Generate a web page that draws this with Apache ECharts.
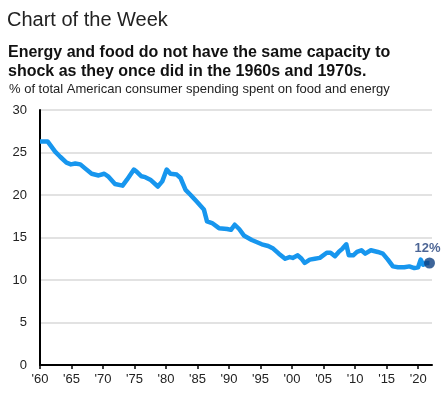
<!DOCTYPE html>
<html>
<head>
<meta charset="utf-8">
<script src="https://cdn.jsdelivr.net/npm/echarts@6/dist/echarts.min.js"></script>
<style>
html,body{margin:0;padding:0;background:#fff;}
#chart{width:446px;height:394px;}
</style>
</head>
<body>
<div id="chart"></div>
<script>
const years = [1960.0,1961.2,1962.4,1963.2,1964.2,1964.9,1965.6,1966.4,1967.2,1968.2,1969.3,1970.2,1970.8,1971.9,1973.1,1973.8,1974.9,1975.4,1976.1,1976.7,1977.5,1978.7,1979.4,1980.1,1980.7,1981.7,1982.3,1983.1,1983.9,1984.9,1986.0,1986.5,1987.3,1988.4,1989.7,1990.3,1990.9,1991.6,1992.4,1993.6,1995.2,1996.2,1997.0,1997.9,1998.9,1999.6,2000.1,2000.9,2001.5,2002.0,2002.8,2003.6,2004.4,2005.5,2006.1,2006.8,2007.4,2008.0,2008.6,2009.0,2009.7,2010.3,2011.0,2011.6,2012.5,2013.6,2014.4,2015.2,2016.0,2016.8,2017.8,2018.6,2019.4,2020.0,2020.4,2020.8,2021.3,2021.8];
const shares = [26.3,26.3,25.1,24.5,23.8,23.6,23.7,23.6,23.1,22.5,22.3,22.5,22.2,21.3,21.1,21.8,23.0,22.7,22.2,22.1,21.8,21.0,21.6,23.0,22.5,22.4,22.0,20.6,20.0,19.2,18.3,16.9,16.7,16.1,16.0,15.9,16.5,16.0,15.2,14.7,14.2,14.0,13.7,13.1,12.5,12.7,12.6,12.9,12.5,12.0,12.4,12.5,12.6,13.2,13.2,12.8,13.3,13.7,14.2,12.9,12.9,13.3,13.5,13.1,13.5,13.3,13.1,12.4,11.6,11.5,11.5,11.6,11.4,11.5,12.4,11.8,12.0,12.0];
const xTicks = [1960,1965,1970,1975,1980,1985,1990,1995,2000,2005,2010,2015,2020];
const yTicks = [0,5,10,15,20,25,30];
const endLabel = '12%';

const lineData = years.map((y, i) => [y, shares[i]]);
const lastPoint = [[years[years.length - 1], shares[shares.length - 1]]];

const chart = echarts.init(document.getElementById('chart'), null, {renderer: 'canvas'});
const FONT = '"Liberation Sans", Arial, sans-serif';
chart.setOption({
  animation: false,
  backgroundColor: '#ffffff',
  title: [
    {text: 'Chart of the Week', left: 7, top: 10, padding: 0,
     textStyle: {fontFamily: FONT, fontSize: 20, fontWeight: 'normal', color: '#222'}},
    {text: 'Energy and food do not have the same capacity to\nshock as they once did in the 1960s and 1970s.', left: 8, top: 43, padding: 0,
     textStyle: {fontFamily: FONT, fontSize: 16, fontWeight: 'bold', color: '#111', lineHeight: 19}},
    {text: '% of total American consumer spending spent on food and energy', left: 9, top: 83, padding: 0,
     textStyle: {fontFamily: FONT, fontSize: 13, fontWeight: 'normal', color: '#222'}}
  ],
  grid: {left: 40, right: 14, top: 110, bottom: 29, containLabel: false},
  xAxis: {
    type: 'value', min: 1960, max: 2022.2, interval: 5,
    axisLine: {show: true, lineStyle: {color: '#000', width: 2}},
    axisTick: {show: true, length: 4, lineStyle: {color: '#000', width: 1.5}, customValues: xTicks},
    axisLabel: {
      customValues: xTicks, margin: 8,
      fontFamily: FONT, fontSize: 13, color: '#222',
      formatter: v => "'" + String(Math.round(v)).slice(2)
    },
    splitLine: {show: false}
  },
  yAxis: {
    type: 'value', min: 0, max: 30, interval: 5,
    axisLine: {show: true, lineStyle: {color: '#000', width: 2}},
    axisTick: {show: false},
    axisLabel: {margin: 13, fontFamily: FONT, fontSize: 13, color: '#222', customValues: yTicks},
    splitLine: {show: true, lineStyle: {color: '#d9d9d9', width: 1.5}}
  },
  series: [
    {
      type: 'line', data: lineData, showSymbol: false, symbol: 'none',
      lineStyle: {color: '#1796ee', width: 4.5, join: 'round'},
      z: 3
    },
    {
      type: 'scatter', data: lastPoint, symbol: 'circle', symbolSize: 11,
      itemStyle: {color: '#0e3f80'},
      label: {show: true, position: 'top', distance: 3, offset: [-2, 0], formatter: endLabel,
        fontFamily: FONT, fontSize: 13, fontWeight: 'bold', color: '#1f3f7a'},
      z: 4
    }
  ]
});
</script>
</body>
</html>
